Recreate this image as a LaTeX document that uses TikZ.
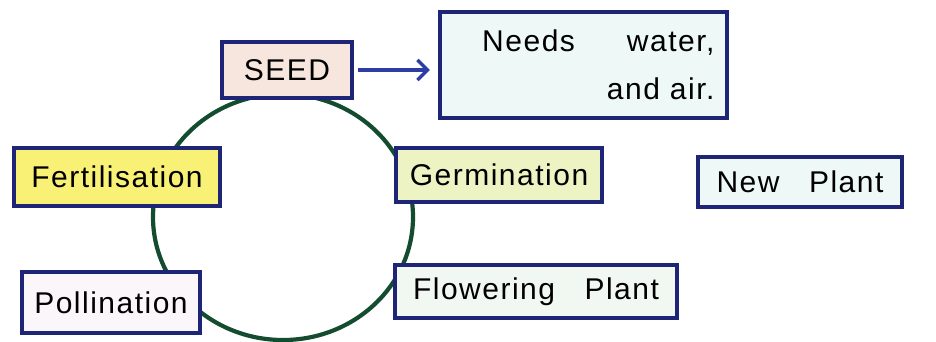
\documentclass[tikz,border=0pt]{standalone}
\usepackage{fontspec}
\setmainfont{Liberation Sans}[LetterSpace=5,WordSpace=3]
\usetikzlibrary{
  arrows.meta,
  positioning,  % Function "of" (e.g. [right=of x])
  backgrounds,  % Predefined layer named "background"
}
\definecolor{boxblue}{RGB}{30,36,118}
\definecolor{arrowblue}{RGB}{44,62,165}
\definecolor{cyclegreen}{RGB}{20,76,48}
\definecolor{seedfill}{RGB}{246,230,222}
\definecolor{fertfill}{RGB}{249,241,118}
\definecolor{germfill}{RGB}{238,243,196}
\definecolor{plantfill}{RGB}{238,248,246}
\definecolor{pollfill}{RGB}{251,246,250}
\definecolor{flowfill}{RGB}{240,248,241}
\def\mytextsize{\fontsize{30}{48}\selectfont}
\tikzset{
  x=1pt,
  y=-1pt,
  >=Stealth,
  my box/.style={
    draw=boxblue,
    line width=4.5pt,
    inner sep=0pt,
    rectangle,
    font=\mytextsize
  },
  cycle line/.style={
    draw=cyclegreen,
    line width=4.2pt
  },
  note arrow/.style={
    draw=arrowblue,
    line width=3.2pt,
    -{Straight Barb[length=10pt,width=20pt]},
    shorten <=4pt,
    shorten >=8pt
  }
}
\begin{document}
\begin{tikzpicture}
\useasboundingbox (0,0) rectangle (936,341);
\node[my box,fill=seedfill,minimum width=130pt,minimum height=56pt]  (seed)  at (287,70)    {SEED};
\node[my box,fill=plantfill,minimum width=287pt,minimum height=106pt,
      text width=262pt,align=right] (needs) at (583.5,65)
      {Needs\hspace{52pt}water,\\ and air.};
\node[my box,fill=fertfill,minimum width=206pt,minimum height=58pt]  (fert)  at (117,177)   {Fertilisation};
\node[my box,fill=germfill,minimum width=206pt,minimum height=54pt]  (germ)  at (499,175)   {Germination};
\node[my box,fill=plantfill,minimum width=204pt,minimum height=50pt] (new)   at (800,182)   {New Plant};
\node[my box,fill=pollfill,minimum width=178pt,minimum height=61pt]  (poll)  at (111,302.5) {Pollination};
\node[my box,fill=flowfill,minimum width=282pt,minimum height=53pt]  (flow)  at (536,291.5) {Flowering Plant};
\coordinate (mid) at (283,217);
\draw[note arrow] (seed.east) -- (seed.east -| needs.west);
\begin{scope}[on background layer]
\draw[cycle line] (mid) ellipse [x radius=130pt, y radius=123pt];
\end{scope}
\end{tikzpicture}
\end{document}
